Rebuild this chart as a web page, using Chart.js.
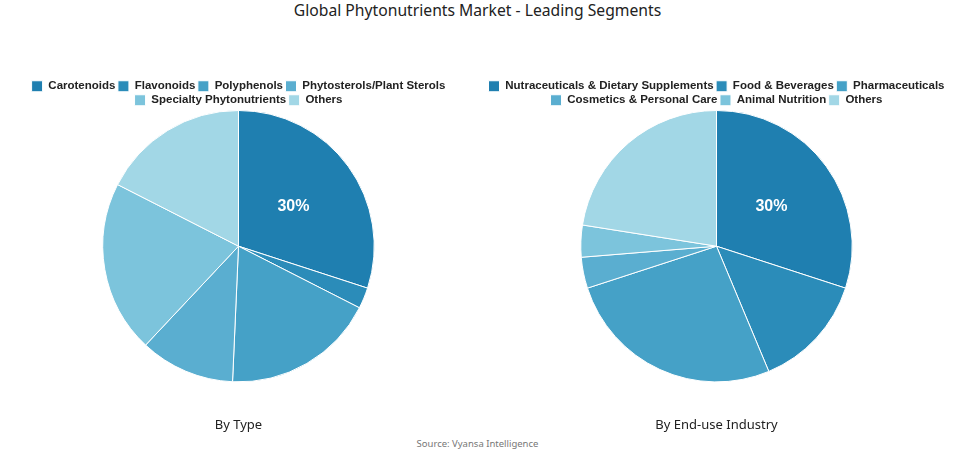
<!DOCTYPE html>
<html><head><meta charset="utf-8">
<script src="https://cdn.jsdelivr.net/npm/chart.js@4"></script>
<style>
html,body{margin:0;padding:0;background:#fff;}
body{width:955px;height:454px;position:relative;overflow:hidden;font-family:"Noto Sans",sans-serif;}
#title{position:absolute;top:0;left:0;width:955px;text-align:center;font-size:15.7px;color:#222;line-height:20px;}
#source{position:absolute;top:437px;left:0;width:955px;text-align:center;font-size:9.5px;color:#777;line-height:14px;}
.wrap{position:absolute;top:78px;width:477px;height:359px;}
</style></head>
<body>
<div id="title">Global Phytonutrients Market - Leading Segments</div>
<div class="wrap" style="left:0"><canvas id="c1"></canvas></div>
<div class="wrap" style="left:478px"><canvas id="c2"></canvas></div>
<div id="source">Source: Vyansa Intelligence</div>
<script>
const typeLabels = ["Carotenoids","Flavonoids","Polyphenols","Phytosterols/Plant Sterols","Specialty Phytonutrients","Others"];
const typeValues = [30, 2.5, 18.2, 11.3, 20.5, 17.5];
const industryLabels = ["Nutraceuticals & Dietary Supplements","Food & Beverages","Pharmaceuticals","Cosmetics & Personal Care","Animal Nutrition","Others"];
const industryValues = [30, 13.7, 26.3, 3.7, 3.8, 22.5];
const palette = ["#1f7fb0","#2b8cb9","#45a1c7","#5aaed0","#7cc4dc","#a2d7e6"];

const firstLabel = {
  id:'firstLabel',
  beforeInit(chart){
    const lg = chart.legend;
    if (lg) {
      const orig = lg.fit.bind(lg);
      lg.fit = function(){ orig(); this.height -= 6; };
    }
  },
  afterDatasetsDraw(chart){
    const meta = chart.getDatasetMeta(0);
    const arc = meta.data[0];
    const mid = (arc.startAngle + arc.endAngle)/2;
    const r = arc.outerRadius/2;
    const x = arc.x + Math.cos(mid)*r, y = arc.y + Math.sin(mid)*r;
    const ctx = chart.ctx;
    ctx.save();
    ctx.fillStyle = '#fff';
    ctx.font = 'bold 16px "Liberation Sans", Arial, sans-serif';
    ctx.textAlign='center'; ctx.textBaseline='middle';
    ctx.fillText(Math.round(chart.data.datasets[0].data[0]) + '%', x, y);
    ctx.restore();
  }
};

function make(id, labels, values, sub){
  return new Chart(document.getElementById(id), {
    type:'pie',
    data:{labels, datasets:[{data:values, backgroundColor:palette, borderColor:'#fff', borderWidth:1}]},
    options:{
      responsive:true, maintainAspectRatio:false, animation:false,
      layout:{padding:{top:0,bottom:0}},
      plugins:{
        legend:{position:'top', labels:{boxWidth:11, boxHeight:11, padding:2.5,
          color:'#222', font:{family:'"Liberation Sans", Arial, sans-serif', size:11.5, weight:'bold'}}},
        title:{display:true, position:'bottom', text:sub, color:'#222',
          font:{family:'"Noto Sans", sans-serif', size:13, weight:'normal'}, padding:{top:35,bottom:4}},
        tooltip:{enabled:false}
      }
    },
    plugins:[firstLabel]
  });
}
make('c1', typeLabels, typeValues, 'By Type');
make('c2', industryLabels, industryValues, 'By End-use Industry');
</script>
</body></html>
